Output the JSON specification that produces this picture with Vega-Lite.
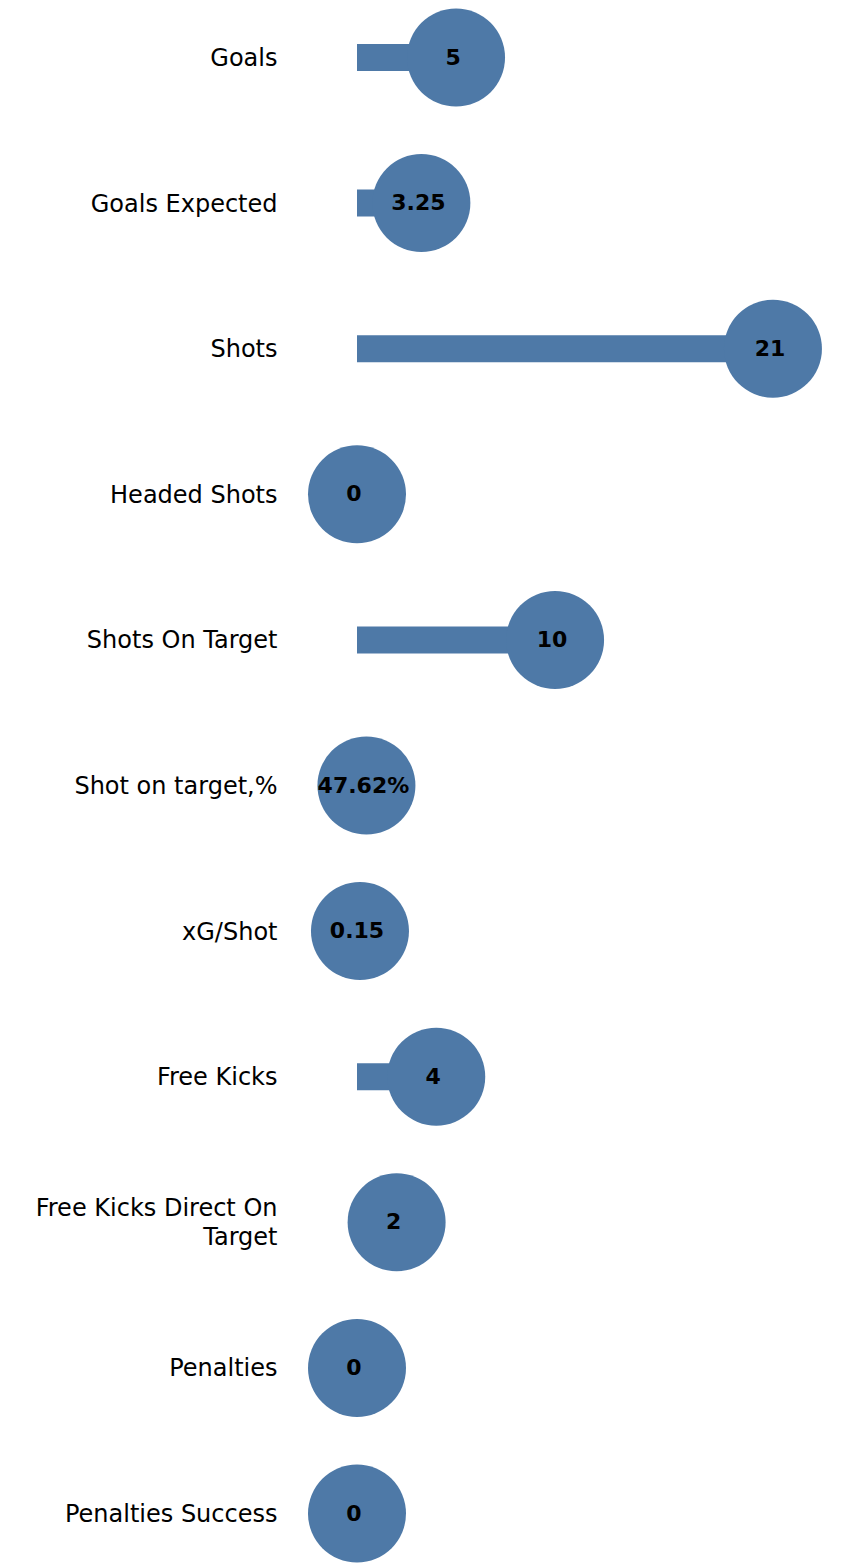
{
  "$schema": "https://vega.github.io/schema/vega-lite/v6.json",
  "autosize": {"type": "none"},
  "padding": {"left": 357, "top": 0, "right": 0, "bottom": 0},
  "width": 492,
  "height": 1563,
  "background": "white",
  "config": {"view": {"stroke": null}},
  "data": {
    "values": [
      {"metric": "Goals", "value": 5, "label": "5"},
      {"metric": "Goals Expected", "value": 3.25, "label": "3.25"},
      {"metric": "Shots", "value": 21, "label": "21"},
      {"metric": "Headed Shots", "value": 0, "label": "0"},
      {"metric": "Shots On Target", "value": 10, "label": "10"},
      {"metric": "Shot on target,%", "value": 0.4762, "label": "47.62%"},
      {"metric": "xG/Shot", "value": 0.15, "label": "0.15"},
      {"metric": "Free Kicks", "value": 4, "label": "4"},
      {"metric": "Free Kicks Direct On Target", "value": 2, "label": "2"},
      {"metric": "Penalties", "value": 0, "label": "0"},
      {"metric": "Penalties Success", "value": 0, "label": "0"}
    ]
  },
  "encoding": {
    "y": {
      "field": "metric",
      "type": "nominal",
      "sort": null,
      "scale": {"type": "point", "range": [57.5, 1513.5], "padding": 0},
      "axis": {
        "title": null,
        "domain": false,
        "ticks": false,
        "tickSize": 0,
        "labelPadding": 80,
        "labelFont": "DejaVu Sans",
        "labelFontSize": 24,
        "labelColor": "black",
        "labelLimit": 400,
        "labelLineHeight": 29,
        "labelOffset": {"condition": {"test": "datum.value == 'Free Kicks Direct On Target'", "value": -13.5}, "value": 1},
        "labelExpr": "datum.label == 'Free Kicks Direct On Target' ? ['Free Kicks Direct On', 'Target'] : datum.label"
      }
    },
    "x": {
      "field": "value",
      "type": "quantitative",
      "scale": {"domain": [0, 24.84], "nice": false, "zero": true},
      "axis": null
    }
  },
  "layer": [
    {"mark": {"type": "bar", "color": "#4e79a7", "size": 27, "clip": false}},
    {"mark": {"type": "point", "shape": "circle", "filled": true, "opacity": 1, "color": "#4e79a7", "size": 9604, "clip": false}},
    {
      "mark": {"type": "text", "font": "DejaVu Sans", "fontWeight": "bold", "fontSize": 22, "color": "black", "align": "center", "baseline": "middle", "dx": -3},
      "encoding": {"text": {"field": "label"}}
    }
  ]
}
